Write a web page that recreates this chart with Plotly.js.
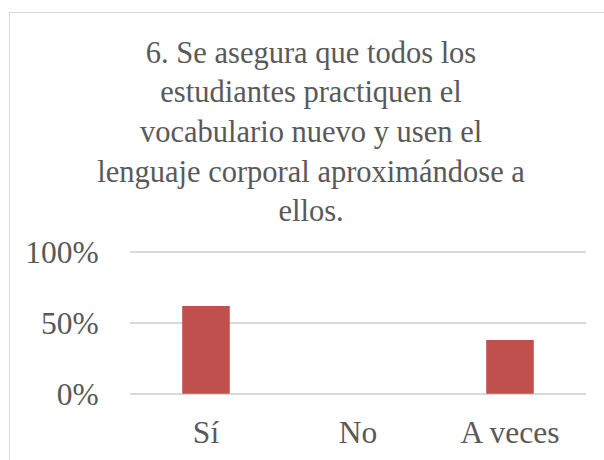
<!DOCTYPE html>
<html>
<head>
<meta charset="utf-8">
<script src="https://cdn.plot.ly/plotly-3.0.1.min.js"></script>
<style>
html,body{margin:0;padding:0;background:#fff;}
#wrap{position:relative;width:604px;height:460px;overflow:hidden;}
#chart{width:604px;height:460px;}
#frame{position:absolute;left:9px;top:12px;width:640px;height:500px;border-left:1.5px solid #d9d9d9;border-top:1.5px solid #d9d9d9;pointer-events:none;}
</style>
</head>
<body>
<div id="wrap">
<div id="chart"></div>
<div id="frame"></div>
</div>
<script>
const categories = ["Sí", "No", "A veces"];
const values = [62, 0, 38];
const tickValues = [0, 50, 100];
const tickLabels = ["0%", "50%", "100%"];
const titleText = "6. Se asegura que todos los<br>estudiantes practiquen el<br>vocabulario nuevo y usen el<br>lenguaje corporal aproximándose a<br>ellos.";

const font = "Liberation Serif";
const grey = "#595959";

Plotly.newPlot("chart", [{
  type: "bar",
  x: categories,
  y: values,
  width: 0.313,
  marker: {color: "#c0504d", line: {width: 0}},
  hoverinfo: "none"
}], {
  width: 604, height: 460,
  margin: {l: 130, r: 18, t: 250, b: 64, pad: 0},
  paper_bgcolor: "#fff", plot_bgcolor: "#fff",
  showlegend: false,
  font: {family: font, color: grey},
  title: {
    text: titleText,
    font: {family: font, size: 30.5, color: grey},
    x: 0.515, xref: "container", xanchor: "center",
    y: 0.864, yref: "container", yanchor: "top"
  },
  xaxis: {
    type: "category",
    showgrid: false, zeroline: false, showline: false,
    ticks: "outside", ticklen: 8, tickcolor: "rgba(0,0,0,0)",
    tickfont: {family: font, size: 31.5, color: grey}
  },
  yaxis: {
    range: [-1.5, 101.5],
    tickvals: tickValues, ticktext: tickLabels,
    showgrid: true, gridcolor: "#d9d9d9", gridwidth: 1.5,
    zeroline: false, showline: false,
    ticks: "outside", ticklen: 24, tickcolor: "rgba(0,0,0,0)",
    tickfont: {family: font, size: 31.5, color: grey}
  }
}, {staticPlot: true, displayModeBar: false});
</script>
</body>
</html>
